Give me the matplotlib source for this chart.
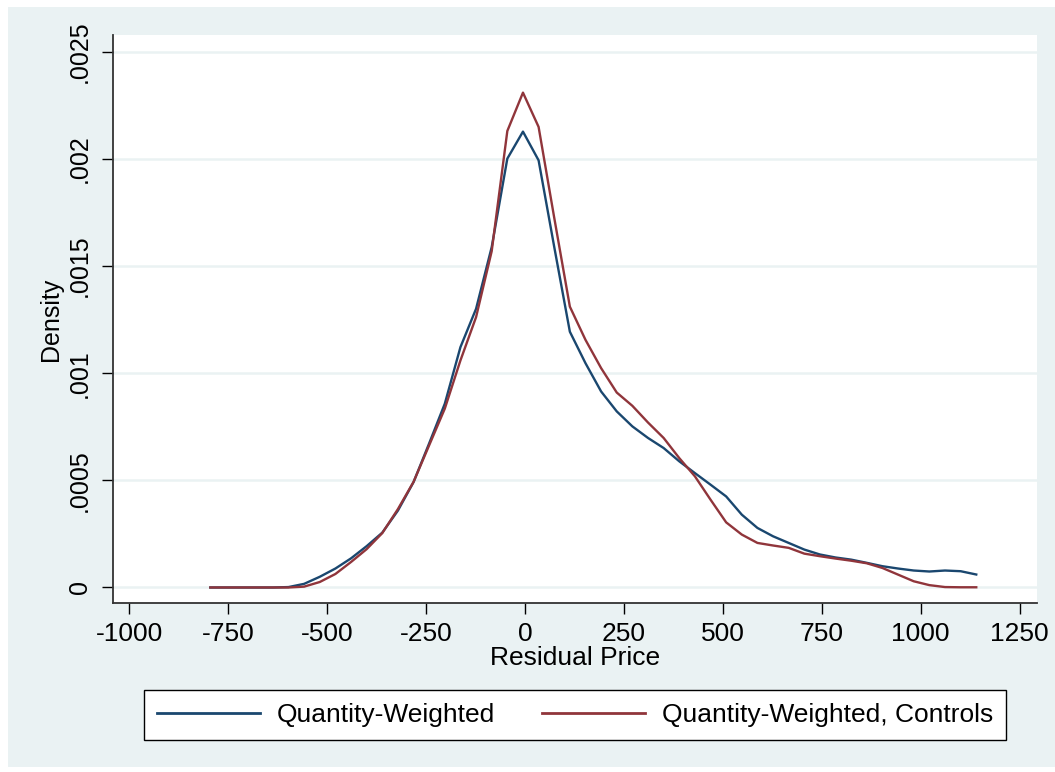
import matplotlib
matplotlib.use("Agg")
import matplotlib.pyplot as plt
from matplotlib.patches import Rectangle

# ---- data ----
residual_price = [-795, -755.5, -716, -676.5, -637, -597.5, -558, -518.5, -479, -439.5,
                  -400, -360.5, -321, -281.5, -242, -202.5, -163, -123.5, -84, -44.5,
                  -5, 34.5, 74, 113.5, 153, 192.5, 232, 271.5, 311, 350.5,
                  390, 429.5, 469, 508.5, 548, 587.5, 627, 666.5, 706, 745.5,
                  785, 824.5, 864, 903.5, 943, 982.5, 1022, 1061.5, 1101, 1140.5]

density_qw = [0, 0, 0, 0, 0, 0.000002, 0.000017, 0.00005, 0.0000885, 0.000136,
              0.000193, 0.000256, 0.000359, 0.000492, 0.000673, 0.000858, 0.001122, 0.001301, 0.001589, 0.002002,
              0.002128, 0.001994, 0.00159, 0.001194, 0.001047, 0.000915, 0.000822, 0.000752, 0.000698, 0.000651,
              0.000589, 0.000534, 0.00048, 0.000425, 0.00034, 0.000278, 0.000239, 0.000208, 0.000177, 0.000154,
              0.00014, 0.00013, 0.000115, 0.0000993, 0.0000885, 0.0000792, 0.0000746, 0.0000792, 0.000076, 0.0000606]

density_qw_controls = [0, 0, 0, 0, 0, 0, 0.000004, 0.0000256, 0.000063, 0.000119,
                       0.000179, 0.000254, 0.000366, 0.000493, 0.000664, 0.000835, 0.00106, 0.001262, 0.00157, 0.002131,
                       0.00231, 0.00215, 0.001726, 0.001311, 0.001156, 0.001024, 0.00091, 0.000848, 0.00077, 0.000698,
                       0.000604, 0.000519, 0.00041, 0.000304, 0.000247, 0.000208, 0.000196, 0.000185, 0.000158, 0.000146,
                       0.000135, 0.000125, 0.000113, 0.000091, 0.00006, 0.000029, 0.000011, 0.000002, 0.000001, 0.000001]

x_ticks = [-1000, -750, -500, -250, 0, 250, 500, 750, 1000, 1250]
x_tick_labels = ["-1000", "-750", "-500", "-250", "0", "250", "500", "750", "1000", "1250"]
y_ticks = [0, 0.0005, 0.001, 0.0015, 0.002, 0.0025]
y_tick_labels = ["0", ".0005", ".001", ".0015", ".002", ".0025"]
series_labels = ["Quantity-Weighted", "Quantity-Weighted, Controls"]

# ---- style ----
plt.rcParams['font.family'] = ['Liberation Sans', 'DejaVu Sans']
W, H = 1055, 772
fig = plt.figure(figsize=(W / 100, H / 100), dpi=100)
fig.patch.set_facecolor("white")

bg = "#EAF2F3"
fig.patches.append(Rectangle((8 / W, 1 - 767 / H), (W - 8) / W, (767 - 7) / H,
                             transform=fig.transFigure, facecolor=bg, edgecolor="none", zorder=-10))

left, right, top, bottom = 113, 1037, 35, 603
ax = fig.add_axes([left / W, 1 - bottom / H, (right - left) / W, (bottom - top) / H])
ax.set_zorder(1)
ax.set_facecolor("white")

blue = "#1a476f"
red = "#90353b"
ax.plot(residual_price, density_qw, color=blue, lw=1.7, label=series_labels[0], zorder=3)
ax.plot(residual_price, density_qw_controls, color=red, lw=1.7, label=series_labels[1], zorder=3)

ax.set_xlim(-1041, 1294)
ax.set_ylim(-7.24e-5, 0.002579)

ax.set_xticks(x_ticks)
ax.set_xticklabels(x_tick_labels, fontsize=19)
ax.set_yticks(y_ticks)
ax.set_yticklabels(y_tick_labels, fontsize=18, rotation=90, va="center")

ax.tick_params(axis="both", direction="out", length=8, width=1.0, color="black")
ax.tick_params(axis="x", pad=6)
ax.tick_params(axis="y", pad=7)

ax.grid(axis="y", color=bg, lw=1.8, zorder=1)
ax.grid(axis="x", visible=False)
ax.set_axisbelow(True)

for s in ["top", "right"]:
    ax.spines[s].set_visible(False)
for s in ["left", "bottom"]:
    ax.spines[s].set_color("#333333")
    ax.spines[s].set_linewidth(1.3)

ax.set_xlabel("Residual Price", fontsize=19, labelpad=0)
ax.set_ylabel("Density", fontsize=18, labelpad=4)

leg = fig.legend(loc="center", bbox_to_anchor=(575 / W, 1 - 715 / H), ncol=2,
                 fontsize=19, frameon=True, fancybox=False, edgecolor="black",
                 handlelength=3.9, handletextpad=0.65, columnspacing=1.75,
                 borderpad=0.5)
leg.set_zorder(5)
leg.get_frame().set_linewidth(1.0)
leg.get_frame().set_facecolor("white")
leg.get_frame().set_alpha(None)
for line in leg.get_lines():
    line.set_linewidth(2.0)

fig.savefig("out.png", dpi=100, facecolor=fig.get_facecolor())
